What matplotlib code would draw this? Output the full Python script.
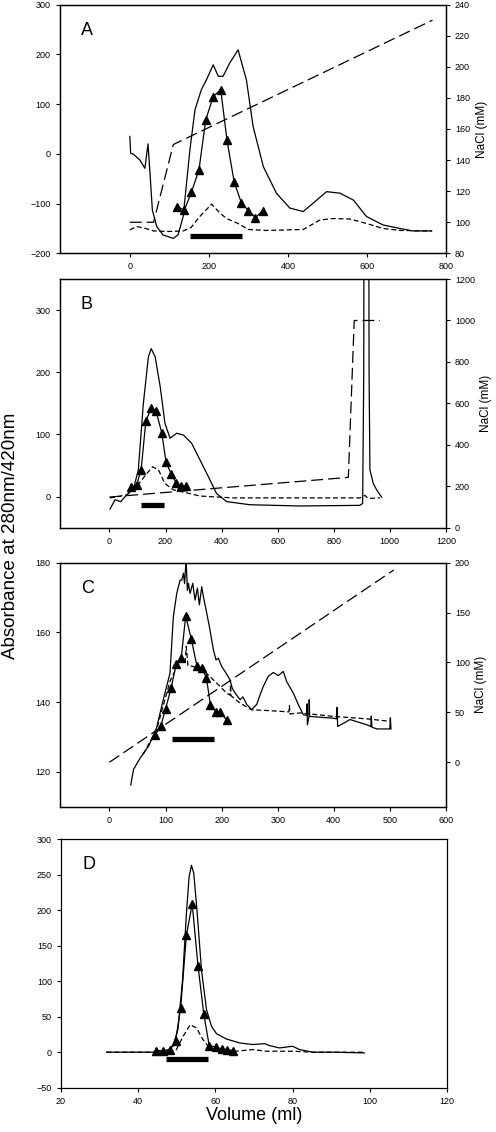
import numpy as np
import matplotlib.pyplot as plt

plt.rcParams['font.family'] = ['Liberation Sans', 'DejaVu Sans']

# ---------------- Panel A ----------------
a_abs_x = [0, 2, 8, 25, 38, 42, 46, 51, 57, 68, 84, 110, 122, 135, 152, 165, 181, 194, 211, 224,
           236, 253, 274, 295, 312, 338, 371, 405, 439, 464, 498, 532, 566, 599, 641, 684, 717, 764]
a_abs_y = [35, 1, 0, -12, -29, -5, 20, -39, -113, -146, -163, -170, -163, -126, 8, 89, 129, 149, 179, 156,
           156, 183, 209, 149, 55, -26, -79, -109, -116, -99, -76, -79, -93, -126, -143, -150, -155, -155]
a_420_x = [0, 17, 40, 60, 100, 135, 155, 177, 207, 228, 245, 274, 300, 346, 439, 481, 515, 557, 599, 641, 684, 764]
a_420_y = [-153, -146, -150, -155, -156, -155, -148, -126, -101, -119, -130, -140, -152, -154, -152, -133, -130,
           -131, -140, -150, -154, -155]
a_act_x = [120, 138, 156, 175, 192, 211, 230, 246, 264, 282, 300, 318, 337]
a_act_y = [-106, -113, -77, -32, 68, 115, 129, 27, -56, -98, -114, -128, -114]
a_nacl_x = [0, 60, 110, 766]
a_nacl_y = [100, 100, 150, 230]
a_bar = [152, 284]
a_bar_y = -165

# ---------------- Panel B ----------------
b_abs_x = [2, 20, 40, 62, 86, 103, 121, 139, 149, 163, 181, 198, 216, 240, 264, 293, 323, 353, 382, 418,
           501, 680, 893, 903, 907, 910, 922, 926, 929, 941, 953, 971]
b_abs_y = [-20, -5, -8, 3, 13, 43, 150, 225, 238, 225, 177, 118, 94, 102, 99, 86, 59, 32, 5, -8,
           -13, -15, -14, -11, 200, 1300, 1300, 200, 43, 21, 11, -1]
b_420_x = [2, 30, 62, 97, 133, 154, 175, 198, 228, 276, 323, 442, 893, 911, 923, 965]
b_420_y = [-2, 0, 3, 16, 37, 48, 43, 21, 11, 6, 1, -2, -2, 2, -3, -2]
b_act_x = [76, 97, 113, 130, 149, 166, 187, 202, 221, 238, 255, 274]
b_act_y = [15, 19, 43, 122, 142, 138, 102, 55, 36, 22, 17, 17]
b_nacl_x = [0, 852, 873, 965]
b_nacl_y = [148, 243, 1000, 1000]
b_bar = [112, 195]
b_bar_y = -13

# ---------------- Panel C ----------------
c_abs_x = [38, 43, 55, 70, 84, 96, 108, 114, 120, 126, 129, 132, 134, 136.7, 139, 140.8, 143.8, 148.6, 152.7,
           156.8, 160.4, 164.6, 167.5, 172.3, 178.2, 185.4, 190.1, 194.2, 200.3, 208, 215, 219, 224, 233,
           238, 245, 253.7, 258, 262.6, 268, 274.4, 283.3, 292.2, 301, 310, 316, 327.9, 336.8, 345.7, 352,
           352.5, 353, 355.8, 356.3, 357, 380, 399, 405, 406, 407, 429, 459, 466, 467, 468, 477, 500, 501, 502]
c_abs_y = [116.2, 120.7, 124, 127.4, 132.6, 140.7, 148.3, 164.5, 171.2, 175, 175, 177, 174, 181, 172,
           174.1, 171.2, 174.1, 169.3, 172.7, 167.9, 173.1, 170.3, 166.5, 161.7, 155, 152.1, 152.6, 150.2,
           148.3, 146.4, 144, 142.6, 140.7, 141.5, 139.3, 137.8, 138.6, 139.3, 141.8, 144.5, 147.4, 148.5,
           147.6, 148.8, 145.9, 142.6, 139.3, 136.4, 136.2, 139.5, 133.5, 135.9, 140.7, 135.9, 135.6, 135.4,
           135.2, 138.5, 133, 135.0, 133.5, 133, 136, 132.8, 132.3, 132.3, 135.5, 132.3]
c_420_x = [60, 84, 96, 108, 120, 129, 135, 137, 140, 150, 160, 173, 191, 209, 215, 216, 217, 233, 253.7, 280,
           320, 321, 322, 340, 399, 459, 500]
c_420_y = [125, 132, 139, 146, 150, 152.6, 151.5, 156, 150.5, 150.2, 149.3, 148.3, 145.5, 142.6, 142,
           145, 141.8, 139.7, 137.8, 137.6, 137.2, 139, 136.6, 136.9, 135.9, 135.2, 134.5]
c_act_x = [82, 91.5, 100, 110, 119, 128, 136, 146, 156, 165, 173, 180, 190, 198, 209]
c_act_y = [130.7, 133.1, 138.0, 144.0, 151.0, 152.6, 164.7, 158.1, 150.4, 149.8, 146.9, 139.3, 137.2,
           137.2, 134.8]
c_nacl_x = [0, 507]
c_nacl_y = [0, 192.7]
c_bar = [111, 187]
c_bar_y = 129.4

# ---------------- Panel D ----------------
d_abs_x = [31.8, 44.7, 47.3, 49, 50.3, 51.5, 52.5, 53.2, 53.8, 54.4, 55.3, 56.4, 57.7, 59, 60.3, 62.8,
           66.3, 69.7, 72.8, 74, 76.6, 80, 81.8, 85.3, 90.4, 98.6]
d_abs_y = [0, 0, 1, 8.4, 32, 102, 195.5, 247, 263, 252, 195.5, 116, 60, 36.5, 26, 18.7,
           13, 10.8, 12, 9.4, 6, 8.4, 3.7, 0, 0, -1]
d_420_x = [31.8, 48.2, 49.9, 51.6, 53.5, 55.1, 56.8, 58.5, 61.1, 65.4, 69.7, 73.2, 80, 85.3, 98.6]
d_420_y = [0, 0, 3.7, 22, 38.8, 34, 17.8, 6, 0, 1.4, 3.7, 1.4, 1.4, 0, 0]
d_act_x = [44.7, 46.5, 48.2, 49.7, 51.0, 52.5, 54.0, 55.5, 57.0, 58.4, 60.1, 61.6, 63.1, 64.6]
d_act_y = [2.3, 2.3, 3.7, 16.4, 62.2, 165, 208.6, 121.6, 53.8, 9.4, 7.0, 4.7, 3.7, 2.3]
d_bar = [47.3, 58.1]
d_bar_y = -8.9

fig = plt.figure(figsize=(4.96, 11.32), dpi=100)

tick_fs = 6.5
long_dash = (0, (9.5, 4))
short_dash = (0, (4, 2.2))


def style(ax):
    ax.tick_params(direction='out', length=3, width=0.8, labelsize=tick_fs, top=False)
    for s in ax.spines.values():
        s.set_linewidth(0.9)


def panel(rect, letter, ax_x, ax_y, n420_x, n420_y, act_x, act_y, bar, bar_y):
    ax = fig.add_axes(rect)
    ax.plot(ax_x, ax_y, color='black', lw=0.9)
    ax.plot(n420_x, n420_y, color='black', lw=0.9, linestyle=short_dash)
    ax.plot(act_x, act_y, color='black', lw=0.9, marker='^', markersize=5.5)
    ax.plot(bar, [bar_y, bar_y], color='black', lw=3.8, solid_capstyle='butt')
    ax.text(0.055, 0.93, letter, transform=ax.transAxes, fontsize=13, va='top', ha='left')
    style(ax)
    return ax


# A
axA = panel([0.12, 0.7762, 0.779, 0.2197], 'A', a_abs_x, a_abs_y, a_420_x, a_420_y,
            a_act_x, a_act_y, a_bar, a_bar_y)
axA.set_xlim(-178, 800)
axA.set_ylim(-200, 300)
axA.set_xticks([0, 200, 400, 600, 800])
axA.set_yticks([-200, -100, 0, 100, 200, 300])
axA2 = axA.twinx()
axA2.plot(a_nacl_x, a_nacl_y, color='black', lw=0.9, linestyle=long_dash)
axA2.set_ylim(80, 240)
axA2.set_yticks(range(80, 241, 20))
axA2.set_ylabel('NaCl (mM)', fontsize=8.5)
style(axA2)

# B
axB = panel([0.12, 0.5338, 0.779, 0.2197], 'B', b_abs_x, b_abs_y, b_420_x, b_420_y,
            b_act_x, b_act_y, b_bar, b_bar_y)
axB.set_xlim(-178, 1200)
axB.set_ylim(-50, 350)
axB.set_xticks(range(0, 1201, 200))
axB.set_yticks([0, 100, 200, 300])
axB2 = axB.twinx()
axB2.plot(b_nacl_x, b_nacl_y, color='black', lw=0.9, linestyle=long_dash)
axB2.set_ylim(0, 1200)
axB2.set_yticks(range(0, 1201, 200))
axB2.set_ylabel('NaCl (mM)', fontsize=8.5)
style(axB2)

# C
axC = panel([0.12, 0.2874, 0.779, 0.2155], 'C', c_abs_x, c_abs_y, c_420_x, c_420_y,
            c_act_x, c_act_y, c_bar, c_bar_y)
axC.set_xlim(-89, 600)
axC.set_ylim(110, 180)
axC.set_xticks(range(0, 601, 100))
axC.set_yticks([120, 140, 160, 180])
axC2 = axC.twinx()
axC2.plot(c_nacl_x, c_nacl_y, color='black', lw=0.9, linestyle=long_dash)
axC2.set_ylim(-44.5, 200)
axC2.set_yticks([0, 50, 100, 150, 200])
axC2.set_ylabel('NaCl (mM)', fontsize=8.5)
style(axC2)

# D
axD = panel([0.123, 0.0391, 0.778, 0.2197], 'D', d_abs_x, d_abs_y, d_420_x, d_420_y,
            d_act_x, d_act_y, d_bar, d_bar_y)
axD.set_xlim(20, 120)
axD.set_ylim(-50, 300)
axD.set_xticks(range(20, 121, 20))
axD.set_yticks(range(-50, 301, 50))
axD.tick_params(right=False)
axD.set_xlabel('Volume (ml)', fontsize=13, labelpad=1)

fig.text(0.022, 0.527, 'Absorbance at 280nm/420nm', rotation=90, fontsize=13.5,
         ha='center', va='center')

fig.savefig('out.png', dpi=100)
